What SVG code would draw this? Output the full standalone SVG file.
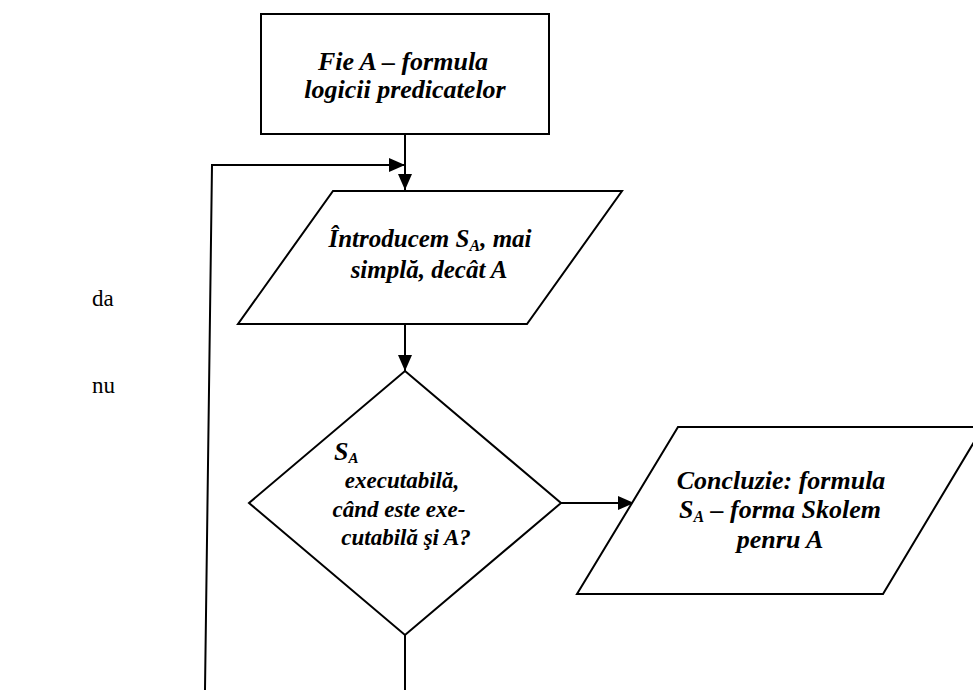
<svg xmlns="http://www.w3.org/2000/svg" width="973" height="690" viewBox="0 0 973 690">
<style>
.shape{fill:#fff;stroke:#000;stroke-width:2}
.conn{fill:none;stroke:#000;stroke-width:2}
.t{font-family:"Liberation Serif","Times New Roman",serif;font-weight:bold;font-style:italic;font-size:26px;fill:#000;text-anchor:middle}
.d{font-size:23px}
.lbl{font-family:"Liberation Serif","Times New Roman",serif;font-size:23px;fill:#000}
.sub{font-size:16px}
</style>
<defs>
<marker id="arr" viewBox="0 0 16 14" refX="16" refY="7" markerWidth="16" markerHeight="14" markerUnits="userSpaceOnUse" orient="auto">
<path d="M0,0 L16,7 L0,14 Z" fill="#000"/>
</marker>
</defs>
<rect width="973" height="690" fill="#fff"/>
<g id="connectors">
<line class="conn" x1="405" y1="134" x2="405" y2="190" marker-end="url(#arr)"/>
<polyline class="conn" points="205,690 212,165 405,165" marker-end="url(#arr)"/>
<line class="conn" x1="405" y1="324" x2="405" y2="371" marker-end="url(#arr)"/>
<line class="conn" x1="561" y1="503" x2="634" y2="503" marker-end="url(#arr)"/>
<line class="conn" x1="405" y1="635" x2="405" y2="690"/>
</g>
<g id="start">
<rect class="shape" x="261" y="14" width="288" height="120"/>
<text class="t" x="403" y="70">Fie A – formula</text>
<text class="t" x="405" y="98">logicii predicatelor</text>
</g>
<g id="input">
<polygon class="shape" points="333,191 622,191 527,324 238,324"/>
<text class="t" x="430" y="247" style="font-size:25px">Întroducem S<tspan class="sub" dy="4">A</tspan><tspan dy="-4">, mai</tspan></text>
<text class="t" x="429" y="278" style="font-size:25px">simplă, decât A</text>
</g>
<g id="decision">
<polygon class="shape" points="405,371 561,503 405,635 249,503"/>
<text class="t" x="334" y="460" style="text-anchor:start;font-size:26px">S<tspan dy="3" style="font-size:15px">A</tspan></text>
<text class="t d" x="402" y="488">executabilă,</text>
<text class="t d" x="399" y="517">când este exe-</text>
<text class="t d" x="406" y="545">cutabilă şi A?</text>
</g>
<g id="conclusion">
<polygon class="shape" points="678,427 983,427 883,594 577,594"/>
<text class="t" x="781" y="489">Concluzie: formula</text>
<text class="t" x="780" y="518">S<tspan class="sub" dy="4">A</tspan><tspan dy="-4"> – forma Skolem</tspan></text>
<text class="t" x="780" y="548">penru A</text>
</g>
<g id="labels">
<text class="lbl" x="92" y="306">da</text>
<text class="lbl" x="92" y="393">nu</text>
</g>
</svg>
